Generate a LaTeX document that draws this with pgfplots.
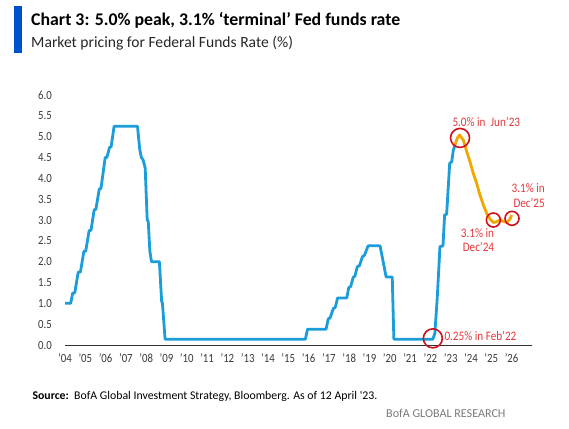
\documentclass[border=0pt]{standalone}
\usepackage{fontspec}
\setmainfont{Carlito}[FakeStretch=0.86]
\newfontfamily\plainfont{Carlito}
\usepackage{pgfplots}
\pgfplotsset{compat=1.18}
\definecolor{barblue}{HTML}{0052CC}
\definecolor{lineblue}{HTML}{1B9DD9}
\definecolor{fcorange}{HTML}{F0A800}
\definecolor{circred}{HTML}{D0101A}
\definecolor{txtred}{HTML}{E5383B}
\definecolor{tickgray}{HTML}{3A3A3A}
\definecolor{axisgray}{HTML}{333333}
\definecolor{brandgray}{HTML}{7A7A7A}
\pgfplotstableread{
x y
2004.00 1.00
2004.28 1.00
2004.38 1.25
2004.48 1.25
2004.65 1.75
2004.76 1.75
2004.93 2.25
2005.02 2.25
2005.19 2.75
2005.28 2.75
2005.44 3.25
2005.52 3.25
2005.69 3.75
2005.77 3.75
2005.98 4.50
2006.06 4.50
2006.20 4.75
2006.27 4.75
2006.42 5.25
2007.57 5.25
2007.68 4.70
2007.76 4.50
2007.84 4.45
2007.95 4.25
2008.05 3.00
2008.10 2.97
2008.18 2.25
2008.26 2.00
2008.65 2.00
2008.76 1.05
2008.80 1.00
2008.93 0.14
2015.84 0.14
2015.95 0.38
2016.86 0.38
2016.97 0.63
2017.06 0.65
2017.22 0.88
2017.31 0.90
2017.43 1.13
2017.88 1.13
2017.98 1.38
2018.07 1.40
2018.20 1.63
2018.28 1.65
2018.40 1.88
2018.50 1.90
2018.66 2.13
2018.75 2.15
2018.93 2.38
2019.52 2.38
2019.82 1.63
2020.12 1.63
2020.20 0.14
2022.12 0.14
2022.22 0.28
2022.34 1.16
2022.47 2.36
2022.62 2.38
2022.70 3.12
2022.80 3.14
2022.95 4.36
2023.05 4.40
2023.13 4.68
2023.21 4.80
}\histtable
\pgfplotstableread{
x y
2023.21 4.80
2023.33 4.97
2023.44 5.04
2023.62 4.92
2023.79 4.64
2023.95 4.40
2024.11 4.12
2024.28 3.88
2024.44 3.60
2024.61 3.36
2024.77 3.16
2024.94 3.02
2025.10 2.94
2025.27 2.96
2025.43 3.00
2025.59 2.97
2025.76 2.94
2025.92 3.02
2026.00 3.12
}\fctable
\begin{document}
\begin{tikzpicture}
\path[use as bounding box] (0pt,0pt) rectangle (569pt,-428pt);
\fill[barblue] (13.5pt,-6pt) rectangle (22pt,-53pt);
\node[anchor=base west, inner sep=0pt] at (31pt,-26pt) {\plainfont\fontsize{17.8}{20}\selectfont\bfseries Chart 3: 5.0\% peak, 3.1\% ‘terminal’ Fed funds rate};
\node[anchor=base west, inner sep=0pt, text=black!85] at (31pt,-47.3pt) {\plainfont\fontsize{15.6}{18}\selectfont Market pricing for Federal Funds Rate (\%)};
\begin{axis}[
  at={(65pt,-345pt)}, anchor=south west,
  scale only axis, width=466.9pt, height=250pt,
  xmin=2004, xmax=2027, ymin=0, ymax=6,
  clip=false,
  axis x line*=bottom, axis y line*=left,
  y axis line style={draw=none},
  x axis line style={draw=axisgray, line width=0.9pt, -},
  major tick length=0pt,
  /pgf/number format/assume math mode=true,
  ytick={0,0.5,...,6},
  yticklabel style={/pgf/number format/fixed, /pgf/number format/fixed zerofill, /pgf/number format/precision=1},
  yticklabel style={anchor=east, inner sep=0pt, xshift=-13pt, text=tickgray, font=\fontsize{12.5}{13}\selectfont},
  xtick={2004,...,2026},
  xticklabels={'04,'05,'06,'07,'08,'09,'10,'11,'12,'13,'14,'15,'16,'17,'18,'19,'20,'21,'22,'23,'24,'25,'26},
  xticklabel style={anchor=north, inner sep=0pt, yshift=-8.5pt, text=tickgray, font=\fontsize{12.5}{13}\selectfont},
]
\addplot[lineblue, line width=2.8pt, line join=round] table[x=x,y=y] {\histtable};
\addplot[fcorange, line width=2.8pt, line join=round] table[x=x,y=y] {\fctable};
\addplot[only marks, mark=o, mark size=9.5pt, mark options={draw=circred, line width=1.6pt, fill=none}] coordinates {(2022.12,0.16) (2023.46,4.97)};
\addplot[only marks, mark=o, mark size=7pt, mark options={draw=circred, line width=1.6pt, fill=none}] coordinates {(2025.10,3.00) (2026.02,3.04)};
\end{axis}
\begin{scope}[every node/.style={inner sep=0pt, text=txtred, font=\fontsize{13}{14}\selectfont}]
\node[anchor=base west] at (452.3pt,-126.7pt) {5.0\% in\ \ Jun'23};
\node[anchor=base east] at (545pt,-192.7pt) {3.1\% in};
\node[anchor=base east] at (545pt,-207pt) {Dec'25};
\node[anchor=base east] at (494.3pt,-237.7pt) {3.1\% in};
\node[anchor=base east] at (494.3pt,-251pt) {Dec'24};
\node[anchor=base west] at (444.3pt,-340.7pt) {0.25\% in Feb'22};
\end{scope}
\node[anchor=base west, inner sep=0pt] at (32.3pt,-399.3pt) {\plainfont\fontsize{11.8}{14}\selectfont\textbf{Source:}\ \ BofA Global Investment Strategy, Bloomberg. As of 12 April '23.};
\node[anchor=base east, inner sep=0pt, text=brandgray] at (505.7pt,-417.7pt) {\plainfont\fontsize{12.1}{14}\selectfont BofA GLOBAL RESEARCH};
\end{tikzpicture}
\end{document}
